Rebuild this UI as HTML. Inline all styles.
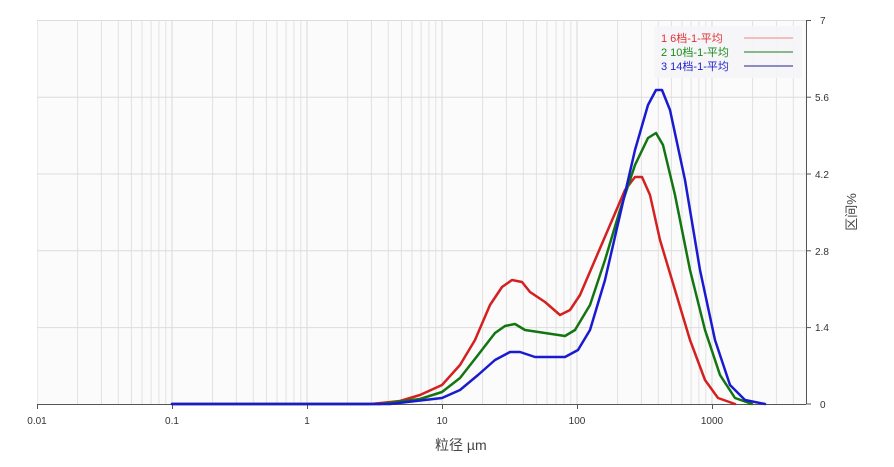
<!DOCTYPE html><html><head><meta charset="utf-8"><style>body{margin:0;background:#fff}svg{display:block}text{font-family:"Liberation Sans","Noto Sans CJK SC",sans-serif}</style></head><body>
<svg width="894" height="467" viewBox="0 0 894 467" xmlns="http://www.w3.org/2000/svg">
<defs>
<clipPath id="c"><rect x="37" y="20" width="769" height="385"/></clipPath>
<g id="dec" stroke="#e2e2e2" stroke-width="1">
<line x1="0" y1="20" x2="0" y2="404" stroke="#d8d8d8"/><line x1="40.6" y1="20" x2="40.6" y2="404"/><line x1="64.4" y1="20" x2="64.4" y2="404"/><line x1="81.3" y1="20" x2="81.3" y2="404"/><line x1="94.4" y1="20" x2="94.4" y2="404"/><line x1="105" y1="20" x2="105" y2="404"/><line x1="114.1" y1="20" x2="114.1" y2="404"/><line x1="121.9" y1="20" x2="121.9" y2="404"/><line x1="128.8" y1="20" x2="128.8" y2="404"/>
</g>
</defs>
<rect x="37" y="20" width="769" height="384" fill="#fbfbfb"/>
<g clip-path="url(#c)">
<use href="#dec" x="37"/><use href="#dec" x="172"/><use href="#dec" x="307"/><use href="#dec" x="442"/><use href="#dec" x="577"/><use href="#dec" x="712"/>
</g>
<g stroke="#dcdcdc">
<line x1="37" y1="20.5" x2="806" y2="20.5"/><line x1="37" y1="97.2" x2="806" y2="97.2"/><line x1="37" y1="174" x2="806" y2="174"/><line x1="37" y1="250.8" x2="806" y2="250.8"/><line x1="37" y1="327.6" x2="806" y2="327.6"/>
</g>
<g stroke="#555" stroke-width="1" fill="none">
<line x1="37" y1="404.5" x2="806" y2="404.5"/>
<line x1="806.5" y1="20" x2="806.5" y2="404"/>
<line x1="37.5" y1="404" x2="37.5" y2="409"/><line x1="172.5" y1="404" x2="172.5" y2="409"/><line x1="307.5" y1="404" x2="307.5" y2="409"/><line x1="442.5" y1="404" x2="442.5" y2="409"/><line x1="577.5" y1="404" x2="577.5" y2="409"/><line x1="712.5" y1="404" x2="712.5" y2="409"/>
<line x1="806" y1="20.5" x2="811" y2="20.5"/><line x1="806" y1="97.2" x2="811" y2="97.2"/><line x1="806" y1="174" x2="811" y2="174"/><line x1="806" y1="250.8" x2="811" y2="250.8"/><line x1="806" y1="327.6" x2="811" y2="327.6"/><line x1="806" y1="404" x2="811" y2="404"/>
</g>
<g font-size="10" fill="#333" text-anchor="middle">
<text x="37" y="424">0.01</text><text x="172" y="424">0.1</text><text x="307" y="424">1</text><text x="442" y="424">10</text><text x="577" y="424">100</text><text x="712" y="424">1000</text>
</g>
<g font-size="10" fill="#333">
<text x="820" y="24">7</text><text x="815" y="101">5.6</text><text x="815" y="178">4.2</text><text x="815" y="255">2.8</text><text x="815" y="331">1.4</text><text x="820" y="408">0</text>
</g>
<text x="435" y="450" font-size="14" fill="#444">粒径 µm</text>
<text transform="translate(856,212) rotate(-90)" font-size="13" fill="#444" text-anchor="middle">区间%</text>
<rect x="654" y="26" width="148" height="52" fill="#f5f5f8" opacity="0.9"/>
<g font-size="11">
<text x="661" y="42" fill="#d33">1  6档-1-平均</text><line x1="744" y1="38" x2="793" y2="38" stroke="#e88" stroke-width="1"/>
<text x="661" y="56" fill="#1a8a1a">2  10档-1-平均</text><line x1="744" y1="52" x2="793" y2="52" stroke="#1a7a1a"/>
<text x="661" y="70" fill="#2222cc">3  14档-1-平均</text><line x1="744" y1="66" x2="793" y2="66" stroke="#222288"/>
</g>
<g fill="none" stroke-width="2.5" stroke-linejoin="round" stroke-linecap="round">
<polyline stroke="#d42020" points="172,404 371,404 400,401 420,395 442,385 460,365 475,340 490,305 502,287 512,280 522,282 530,292 545,302 560,315 570,310 580,295 595,260 610,225 625,190 635,177 642,177 650,195 660,240 675,290 690,340 705,380 718,398 735,404"/>
<polyline stroke="#127512" points="172,404 380,404 420,399 442,392 460,378 478,355 495,333 505,326 515,324 525,330 545,333 565,336 575,330 590,305 605,260 620,210 635,165 648,138 656,133 663,145 675,195 690,270 705,330 720,375 735,398 752,404"/>
<polyline stroke="#1a1ad0" points="172,404 390,404 442,398 460,390 478,375 495,360 510,352 520,352 535,357 555,357 565,357 578,350 590,330 605,280 620,215 635,150 648,105 656,90 662,90 670,110 685,180 700,270 715,340 730,385 745,400 765,404"/>
</g>
</svg></body></html>
